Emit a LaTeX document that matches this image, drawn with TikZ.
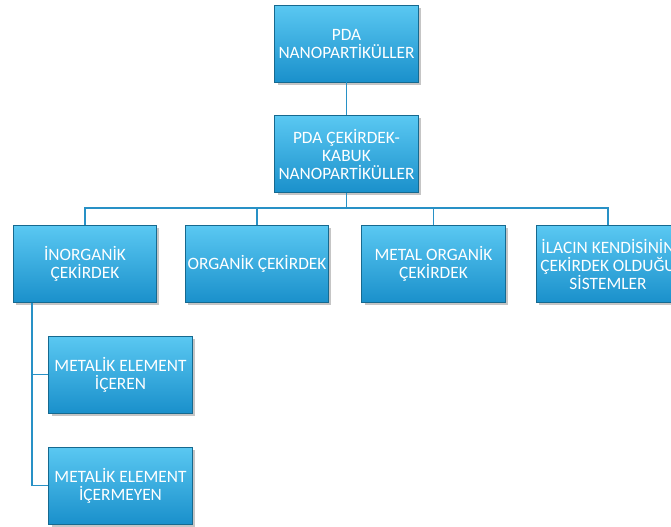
\documentclass[tikz,border=0pt]{standalone}
\usepackage{fontspec}
\newfontfamily\boxfont{Carlito}
\usetikzlibrary{shadows}
\definecolor{boxtop}{HTML}{5AC8F2}
\definecolor{boxbot}{HTML}{1A90CB}
\definecolor{boxedge}{HTML}{16698F}
\definecolor{linkblue}{HTML}{2891C6}
\tikzset{
  box/.style={rectangle, draw=boxedge, line width=0.6pt, top color=boxtop, bottom color=boxbot,
    minimum width=107.5pt, minimum height=57.75pt, inner sep=1pt, align=center,
    text=white, font=\boxfont\fontsize{13}{13.5}\selectfont,
    drop shadow={opacity=0.45, shadow xshift=2pt, shadow yshift=-2pt}},
  link/.style={draw=linkblue, line width=1.4pt}
}
\begin{document}
\begin{tikzpicture}[x=0.75pt, y=-0.75pt]
        \clip (0,0) rectangle (671,526);
        \fill[white] (0,0) rectangle (671,526);

        % top levels
        \node[box] (pda) at (346.5,43.5) {PDA\\NANOPARTİKÜLLER};
        \node[box] (core) at (346.5,154) {PDA ÇEKİRDEK-\\KABUK\\NANOPARTİKÜLLER};

        % core types
        \node[box] (inorg) at (85,264) {İNORGANİK\\ÇEKİRDEK};
        \node[box] (org) at (257,264) {ORGANİK ÇEKİRDEK};
        \node[box] (metorg) at (433.5,264) {METAL ORGANİK\\ÇEKİRDEK};
        \node[box] (drug) at (608,264) {İLACIN KENDİSİNİN\\ÇEKİRDEK OLDUĞU\\SİSTEMLER};

        % inorganic subtypes
        \node[box] (metal) at (120.5,374.5) {METALİK ELEMENT\\İÇEREN};
        \node[box] (nometal) at (120.5,485.5) {METALİK ELEMENT\\İÇERMEYEN};

        % connectors
        \draw[link] (pda) -- (core);
        \coordinate (bus) at (346.5,208);
        \draw[link] (core.south) -- (bus);
        \foreach \child in {inorg, org, metorg, drug} {
            \draw[link] (bus) -| (\child.north);
        }
        \coordinate (spine) at ([xshift=14]inorg.south west);
        \draw[link] (spine) |- (metal.west);
        \draw[link] (spine) |- (nometal.west);

    \end{tikzpicture}
\end{document}
